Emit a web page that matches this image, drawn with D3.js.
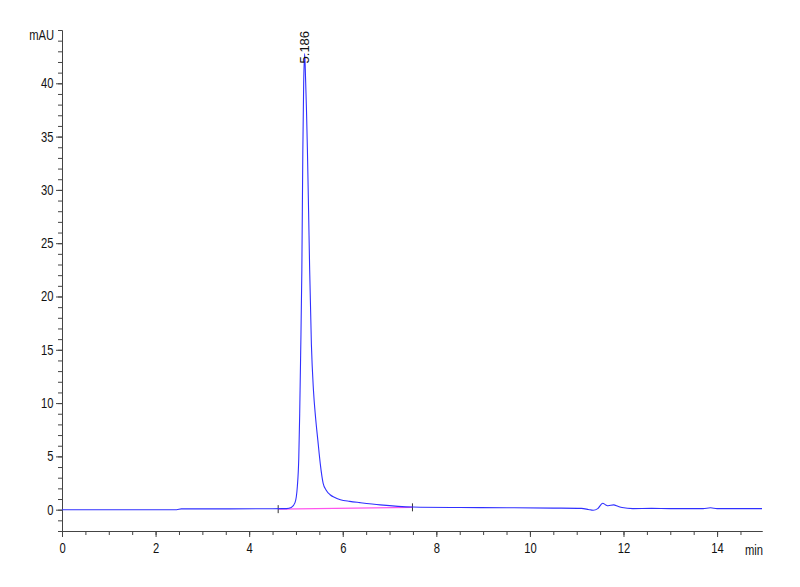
<!DOCTYPE html>
<html lang="en">
<head>
  <meta charset="UTF-8">
  <script src="https://d3js.org/d3.v7.min.js" charset="utf-8"></script>
  <title>chromatogram</title>
  <style>
    body { margin: 0; background: #fff; }
    text { font-family: "Liberation Sans", Arial, sans-serif; }
  </style>
</head>
<body>
</body>
<script>
  // retention time (min) and signal (mAU)
  let time = [0, 1.0, 2.45, 2.55, 3.5, 4.5, 4.8, 4.9, 4.98, 5.03, 5.06, 5.08, 5.10, 5.126, 5.147, 5.165,
    5.186, 5.205, 5.225, 5.245, 5.27, 5.293, 5.33, 5.374, 5.42, 5.468, 5.52, 5.58, 5.65, 5.73, 5.83,
    5.95, 6.15, 6.37, 6.8, 7.5, 8.5, 9.5, 10.5, 11.1, 11.25, 11.35, 11.45, 11.555, 11.62, 11.67,
    11.79, 11.88, 11.97, 12.2, 12.6, 13.0, 13.7, 13.86, 14.0, 14.96]
  let signal = [0, 0, 0, 0.08, 0.08, 0.09, 0.1, 0.2, 0.66, 2.2, 4.8, 9, 14.5, 22.5, 33.7, 40,
    42.8, 40.5, 37.5, 33.7, 28, 22.5, 15.5, 11.2, 8.6, 6.5, 4.3, 2.5, 1.8, 1.4, 1.15,
    0.94, 0.78, 0.66, 0.45, 0.25, 0.2, 0.18, 0.15, 0.12, 0.02, -0.06, 0.1, 0.6, 0.45, 0.37,
    0.45, 0.32, 0.2, 0.1, 0.12, 0.1, 0.1, 0.18, 0.1, 0.1]

  // integration baseline of the main peak
  let baseTime = [4.62, 7.49]
  let baseSignal = [0.05, 0.22]

  let peakTime = 5.186
  let peakHeight = 42.8
  let peakLabel = '5.186'

  let xTicks = [0, 2, 4, 6, 8, 10, 12, 14]
  let yTicks = [0, 5, 10, 15, 20, 25, 30, 35, 40]

  let width = 800
  let height = 587
  let margin = { top: 30, right: 38, bottom: 56, left: 62 }
  let narrow = 'scale(0.8,1)' // labels in the original use a condensed face

  let svg = d3.select('body')
    .append('svg')
    .attr('width', width)
    .attr('height', height)

  let x = d3.scaleLinear()
    .domain([0, 14.96])
    .range([margin.left, width - margin.right])

  let y = d3.scaleLinear()
    .domain([-2, 45])
    .range([height - margin.bottom, margin.top])

  // minor ticks
  svg.append('g')
    .attr('transform', `translate(0,${height - margin.bottom})`)
    .call(d3.axisBottom(x).tickValues(d3.range(0, 14.96, 0.5)).tickSize(4).tickFormat('').tickSizeOuter(0))
  svg.append('g')
    .attr('transform', `translate(${margin.left},0)`)
    .call(d3.axisLeft(y).tickValues(d3.range(-2, 45.5, 1)).tickSize(4).tickFormat('').tickSizeOuter(0))

  // major ticks with labels
  let xAxis = svg.append('g')
    .attr('transform', `translate(0,${height - margin.bottom})`)
    .call(d3.axisBottom(x).tickValues(xTicks).tickSize(6).tickPadding(6).tickSizeOuter(0))
  let yAxis = svg.append('g')
    .attr('transform', `translate(${margin.left},0)`)
    .call(d3.axisLeft(y).tickValues(yTicks).tickSize(6).tickPadding(3).tickSizeOuter(0))

  svg.selectAll('.domain, .tick line').attr('stroke', '#444')
  svg.selectAll('.tick text').attr('font-size', 14).attr('fill', '#111')
    .style('font-family', '"Liberation Sans", Arial, sans-serif')
  xAxis.selectAll('.tick text').attr('transform', narrow)
  yAxis.selectAll('.tick text').attr('x', 0).attr('transform', 'translate(-8.5,0) ' + narrow)

  // unit labels
  svg.append('text')
    .attr('transform', `translate(54,${y(44.1)}) ` + narrow)
    .attr('text-anchor', 'end')
    .attr('font-size', 14)
    .attr('fill', '#111')
    .text('mAU')
  svg.append('text')
    .attr('transform', `translate(${x(14.96) + 1},${height - margin.bottom + 24}) ` + narrow)
    .attr('text-anchor', 'end')
    .attr('font-size', 14)
    .attr('fill', '#111')
    .text('min')

  // baseline
  svg.append('line')
    .attr('x1', x(baseTime[0]))
    .attr('y1', y(baseSignal[0]))
    .attr('x2', x(baseTime[1]))
    .attr('y2', y(baseSignal[1]))
    .attr('stroke', '#ff55ee')
    .attr('stroke-width', 1.2)

  svg.selectAll('.basetick')
    .data(baseTime)
    .enter()
    .append('line')
    .attr('class', 'basetick')
    .attr('x1', (d) => x(d))
    .attr('x2', (d) => x(d))
    .attr('y1', (d, i) => y(baseSignal[i]) - 4)
    .attr('y2', (d, i) => y(baseSignal[i]) + 4)
    .attr('stroke', '#333')

  // trace
  let line = d3.line()
    .x((d) => x(d[0]))
    .y((d) => y(d[1]))
    .curve(d3.curveMonotoneX)

  svg.append('path')
    .datum(time.map((t, i) => [t, signal[i]]))
    .attr('d', line)
    .attr('fill', 'none')
    .attr('stroke', '#3030ff')
    .attr('stroke-width', 1.1)

  // peak label
  svg.append('text')
    .attr('transform', `translate(${x(peakTime) + 4},${y(peakHeight) + 10}) rotate(-90)`)
    .attr('font-size', 13)
    .attr('fill', '#111')
    .text(peakLabel)
</script>
</html>
